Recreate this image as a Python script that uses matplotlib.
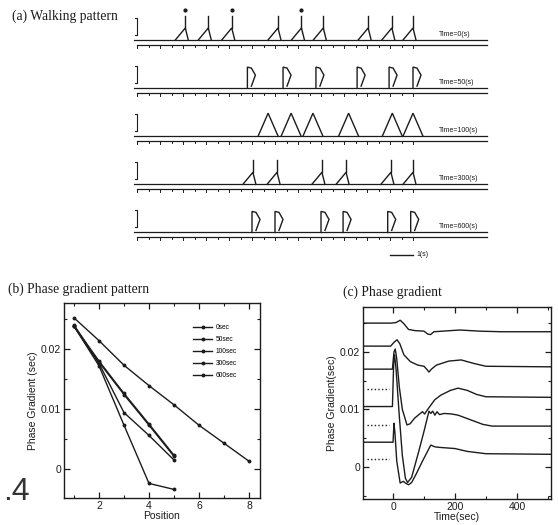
import matplotlib
matplotlib.use('Agg')
import matplotlib.pyplot as plt
from matplotlib.ticker import MultipleLocator

W, H = 558, 525
fig = plt.figure(figsize=(W / 100, H / 100), dpi=100)
INK = '#1c1c1c'
SANS = ['Liberation Sans', 'DejaVu Sans']
SERIF = ['Liberation Serif', 'DejaVu Serif']


def px_axes(l, t, r, b):
    return fig.add_axes([l / W, 1 - b / H, (r - l) / W, (b - t) / H])


# ---------------- data: (a) walking pattern (step times in seconds) ----------------
row_labels = ["Time=0(s)", "Time=50(s)", "Time=100(s)", "Time=300(s)", "Time=600(s)"]
steps_t0 = [2.1, 3.1, 4.12, 6.13, 7.15, 8.1, 10.05, 11.08, 12.0]
steps_t50 = [4.8, 6.35, 7.78, 9.57, 10.96, 12.0]
steps_t100 = [5.7, 6.7, 7.65, 9.2, 11.1, 12.0]
steps_t300 = [5.04, 6.09, 8.04, 9.09, 11.04, 12.0]
steps_t600 = [5.0, 6.0, 8.0, 8.96, 10.9, 11.9]
marked_steps_t0 = [2.1, 4.12, 7.15]
row_steps = [steps_t0, steps_t50, steps_t100, steps_t300, steps_t600]
row_shapes = ['lambda', 'hook', 'tent', 'lambda', 'hook']

# ---------------- data: (b) phase gradient pattern ----------------
pos_long = [1, 2, 3, 4, 5, 6, 7, 8]
pos_short = [1, 2, 3, 4, 5]
grad_0s = [0.0252, 0.0214, 0.0173, 0.0139, 0.0107, 0.0073, 0.0043, 0.0013]
grad_50s = [0.0238, 0.0172, 0.0073, -0.0024, -0.0034]
grad_100s = [0.0238, 0.0176, 0.0094, 0.0056, 0.0015]
grad_300s = [0.0238, 0.0180, 0.0126, 0.0075, 0.0023]
grad_600s = [0.0240, 0.0178, 0.0124, 0.0073, 0.0021]
legend_labels = ["0sec", "50sec", "100sec", "300sec", "600sec"]

# ---------------- data: (c) phase gradient time course ----------------
c1_t = [-97, -5, 10, 23, 35, 50, 70, 100, 112, 121, 132, 160, 215, 280, 350, 510]
c1_v = [0.0250, 0.0250, 0.0251, 0.0255, 0.0249, 0.0239, 0.0237, 0.0236, 0.0231, 0.0230,
        0.0235, 0.0236, 0.0238, 0.0236, 0.0235, 0.0235]
c2_t = [-97, -8, 4, 13, 22, 35, 56, 80, 100, 110, 116, 124, 140, 180, 220, 260, 300, 510]
c2_v = [0.0210, 0.0210, 0.0217, 0.0221, 0.0214, 0.0195, 0.0183, 0.0177, 0.0175, 0.0169,
        0.0165, 0.0170, 0.0177, 0.0184, 0.0186, 0.0180, 0.0175, 0.0174]
c3_t = [-97, -2, 3, 7, 12, 20, 30, 45, 55, 70, 88, 95, 102, 108, 116, 135, 155, 185, 210,
        240, 270, 300, 510]
c3_v = [0.0170, 0.0170, 0.0200, 0.0205, 0.0188, 0.0140, 0.0100, 0.0073, 0.0075, 0.0085,
        0.0093, 0.0096, 0.0092, 0.0097, 0.0103, 0.0117, 0.0125, 0.0133, 0.0137, 0.0133,
        0.0126, 0.0122, 0.0121]
c4_t = [-97, -2, 2, 5, 10, 20, 30, 40, 47, 60, 83, 100, 116, 122, 128, 135, 142, 150, 165,
        190, 210, 250, 290, 320, 510]
c4_v = [0.0105, 0.0105, 0.0180, 0.0195, 0.0168, 0.0090, 0.0020, -0.0020, -0.0027, -0.0018,
        0.0027, 0.0062, 0.0097, 0.0093, 0.0097, 0.0090, 0.0096, 0.0091, 0.0093, 0.0092,
        0.0090, 0.0082, 0.0074, 0.0071, 0.0071]
c5_t = [-97, 0, 3, 6, 12, 23, 33, 40, 50, 60, 75, 94, 116, 122, 135, 150, 200, 240, 300, 510]
c5_v = [0.0043, 0.0043, 0.0076, 0.0060, 0.0010, -0.0028, -0.0025, -0.0028, -0.0031,
        -0.0027, -0.0012, 0.0009, 0.0032, 0.0038, 0.0035, 0.0034, 0.0032, 0.0027, 0.0023,
        0.0022]
curves_t = [c1_t, c2_t, c3_t, c4_t, c5_t]
curves_v = [c1_v, c2_v, c3_v, c4_v, c5_v]
dotted_levels = [0.0136, 0.0073, 0.0014]
dotted_span = [-85, -12]

# ================= panel (a) =================
ax_a = px_axes(125, 0, 495, 265)
X0, SPP = 137.0, 23.0          # pixel of t=0 and pixels per second
ax_a.set_xlim((125 - X0) / SPP, (495 - X0) / SPP)
ax_a.set_ylim(265, 0)
ax_a.axis('off')

shape_pts = {
    'lambda': [([-10, 0, 3], [0, 12, 0]), ([0, 0], [12, 24])],
    'hook': [([0, 0, 4, 8, 4], [0, 21, 20, 13, 2])],
    'tent': [([-10, 0, 10], [0, 23, 0])],
}
t_end = 15.2
for r, (steps, shape, lab) in enumerate(zip(row_steps, row_shapes, row_labels)):
    base = 40 + 48.1 * r
    low = base + 5
    ax_a.plot([-0.15, t_end], [base, base], color=INK, lw=0.9)
    ax_a.plot([0.0, t_end], [low, low], color=INK, lw=0.9)
    k = 0.0
    while k <= 12.01:
        ax_a.plot([k, k], [low, low + (3 if abs(k - round(k)) < 1e-6 else 2)],
                  color=INK, lw=0.7)
        k += 0.5
    # bracket
    ax_a.plot([-0.1, 0, 0, -0.1], [base - 22, base - 22, base - 5, base - 5],
              color=INK, lw=0.8)
    for t in steps:
        for xs, ys in shape_pts[shape]:
            ax_a.plot([t + dx / SPP for dx in xs], [base - dy for dy in ys],
                      color=INK, lw=1.0, solid_joinstyle='miter')
    if r == 0:
        ax_a.plot(marked_steps_t0, [base - 30] * len(marked_steps_t0), 'o',
                  color=INK, ms=2.0)
    ax_a.text((439 - X0) / SPP, base - 6, lab, fontsize=5.0, family=SANS,
              color=INK, va='center', ha='left')
# scale bar: 1 s
ax_a.plot([11.0, 12.0], [255, 255], color=INK, lw=1.0)
ax_a.text(12.15, 255, "1(s)", fontsize=5.0, family=SANS, color=INK, va='center')

fig.text(12 / W, 1 - 16 / H, "(a) Walking pattern", fontsize=9.8, family=SERIF,
         color=INK, va='center', ha='left')

# ================= panel (b) =================
ax_b = px_axes(64, 303, 260, 498)
series_b = [(pos_long, grad_0s), (pos_short, grad_50s), (pos_short, grad_100s),
            (pos_short, grad_300s), (pos_short, grad_600s)]
for (xs, ys), lab in zip(series_b, legend_labels):
    ax_b.plot(xs, ys, color=INK, lw=1.0, marker='o', ms=1.8, label=lab)
ax_b.set_xlim(0.6, 8.44)
ax_b.set_ylim(-0.00483, 0.02767)
ax_b.set_xticks([2, 4, 6, 8])
ax_b.set_xticklabels(["2", "4", "6", "8"])
ax_b.xaxis.set_minor_locator(MultipleLocator(1))
ax_b.set_yticks([0, 0.01, 0.02])
ax_b.set_yticklabels(["0", "0.01", "0.02"])
ax_b.yaxis.set_minor_locator(MultipleLocator(0.005))
ax_b.set_xlabel("Position", fontsize=7.5, family=SANS, labelpad=0, color=INK)
ax_b.set_ylabel("Phase Gradient (sec)", fontsize=7.5, family=SANS, labelpad=2, color=INK)
leg = ax_b.legend(loc='upper left', bbox_to_anchor=(0.635, 0.915), frameon=False,
                  fontsize=4.8, handlelength=2.9, handletextpad=0.5, labelspacing=0.75,
                  borderpad=0.2)
for t in leg.get_texts():
    t.set_family(SANS)
fig.text(8 / W, 1 - 289 / H, "(b) Phase gradient pattern", fontsize=9.8, family=SERIF,
         color=INK, va='center', ha='left')
fig.text(3 / W, 1 - 500 / H, ".4", fontsize=23, family=SANS, color='#333333',
         va='baseline', ha='left')

# ================= panel (c) =================
ax_c = px_axes(363, 307, 551, 499)
for ts, vs in zip(curves_t, curves_v):
    ax_c.plot(ts, vs, color=INK, lw=1.0)
for lvl in dotted_levels:
    ax_c.plot(dotted_span, [lvl, lvl], color=INK, lw=1.0, linestyle=(0, (1, 1.6)))
ax_c.set_xlim(-97, 510)
ax_c.set_ylim(-0.00557, 0.0278)
ax_c.set_xticks([0, 200, 400])
ax_c.set_xticklabels(["0", "200", "400"])
ax_c.xaxis.set_minor_locator(MultipleLocator(100))
ax_c.set_yticks([0, 0.01, 0.02])
ax_c.set_yticklabels(["0", "0.01", "0.02"])
ax_c.yaxis.set_minor_locator(MultipleLocator(0.005))
ax_c.set_xlabel("Time(sec)", fontsize=7.5, family=SANS, labelpad=0, color=INK)
ax_c.set_ylabel("Phase Gradient(sec)", fontsize=7.5, family=SANS, labelpad=2, color=INK)
fig.text(343 / W, 1 - 292 / H, "(c) Phase gradient", fontsize=9.8, family=SERIF,
         color=INK, va='center', ha='left')

for ax in (ax_b, ax_c):
    for s in ax.spines.values():
        s.set_linewidth(1.0)
        s.set_color(INK)
    ax.tick_params(which='both', direction='in', top=True, right=True, colors=INK,
                   labelsize=7.5, pad=2)
    ax.tick_params(which='major', length=4, width=0.9)
    ax.tick_params(which='minor', length=2, width=0.8)
    for lab in ax.get_xticklabels() + ax.get_yticklabels():
        lab.set_family(SANS)

fig.savefig("out.png", dpi=100)
